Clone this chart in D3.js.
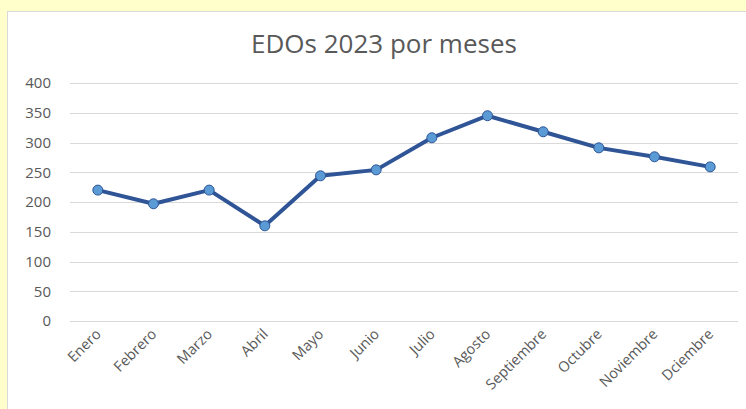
<!DOCTYPE html>
<html>
<head>
<meta charset="utf-8">
<script src="https://cdn.jsdelivr.net/npm/d3@7"></script>
<style>
  body { margin: 0; background: #FFFFCC; }
  svg { display: block; }
</style>
</head>
<body>
<script>
const meses = ['Enero', 'Febrero', 'Marzo', 'Abril', 'Mayo', 'Junio', 'Julio',
  'Agosto', 'Septiembre', 'Octubre', 'Noviembre', 'Dciembre']
const valores = [220, 197, 220, 160, 244, 254, 308, 345, 318, 291, 276, 259]
const ticksY = [0, 50, 100, 150, 200, 250, 300, 350, 400]

const largura = 746
const altura = 409
const fonte = '"Open Sans", sans-serif'

var svg = d3.select('body').append('svg').attr('width', largura).attr('height', altura)

// fundo do grafico
svg.append('rect')
  .attr('x', 7.5).attr('y', 11.5)
  .attr('width', 745).attr('height', 420)
  .attr('fill', '#fff')
  .attr('stroke', '#D9D9D9')

svg.append('text')
  .attr('x', 384).attr('y', 53)
  .attr('text-anchor', 'middle')
  .style('font-family', fonte)
  .style('font-size', '26px')
  .attr('fill', '#595959')
  .text('EDOs 2023 por meses')

var x = d3.scaleBand().domain(meses).range([70, 738])
var y = d3.scaleLinear().domain([0, 400]).range([321, 83])

var grade = svg.append('g')
grade.selectAll('line').data(ticksY).enter().append('line')
  .attr('x1', 70).attr('x2', 738)
  .attr('y1', d => Math.round(y(d)) + 0.5).attr('y2', d => Math.round(y(d)) + 0.5)
  .attr('stroke', '#D9D9D9')
  .attr('stroke-width', 1)

var eixoY = svg.append('g')
  .attr('transform', 'translate(60,0)')
  .call(d3.axisLeft(y).tickValues(ticksY).tickSize(0).tickPadding(9))
eixoY.select('.domain').remove()
eixoY.selectAll('text')
  .style('font-family', fonte)
  .style('font-size', '15px')
  .attr('fill', '#595959')

var eixoX = svg.append('g')
  .attr('transform', 'translate(0,321)')
  .call(d3.axisBottom(x).tickSize(0).tickPadding(0))
eixoX.select('.domain').remove()
eixoX.selectAll('text')
  .style('font-family', fonte)
  .style('font-size', '14.5px')
  .attr('fill', '#595959')
  .attr('text-anchor', 'end')
  .attr('dy', '0')
  .attr('transform', 'translate(4,14) rotate(-45)')

var geradorLinha = d3.line()
  .x((d, i) => x(meses[i]) + x.bandwidth() / 2)
  .y(d => y(d))

svg.append('path')
  .attr('d', geradorLinha(valores))
  .attr('fill', 'none')
  .attr('stroke', '#2F5597')
  .attr('stroke-width', 4)
  .attr('stroke-linejoin', 'round')

svg.selectAll('circle.ponto').data(valores).enter().append('circle')
  .attr('class', 'ponto')
  .attr('cx', (d, i) => x(meses[i]) + x.bandwidth() / 2)
  .attr('cy', d => y(d))
  .attr('r', 5)
  .attr('fill', '#5B9BD5')
  .attr('stroke', '#2F5597')
  .attr('stroke-width', 1)
</script>
</body>
</html>
